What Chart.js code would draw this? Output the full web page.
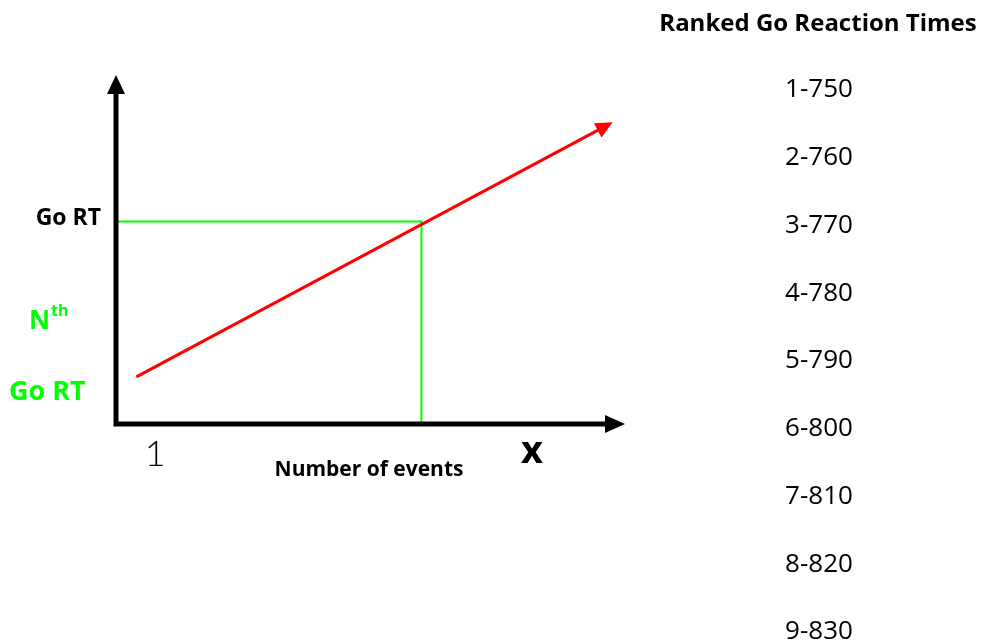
<!DOCTYPE html>
<html>
<head>
<meta charset="utf-8">
<script src="https://cdn.jsdelivr.net/npm/chart.js@4"></script>
<style>
  body { margin: 0; background: #fff; }
  #wrap { width: 986px; height: 644px; position: relative; }
</style>
</head>
<body>
<div id="wrap"><canvas id="RTChart" width="986" height="644"></canvas></div>
<script>
// values
const rankNumbers = [1, 2, 3, 4, 5, 6, 7, 8, 9];
const rankTimes = [750, 760, 770, 780, 790, 800, 810, 820, 830];
const lineX = [0.4, 9.7];
const lineY = [1.35, 8.6];
const goRT = 5.8;      // y level of the Go RT guide
const nthEvent = 6.0;  // x where the guide drops down
const xTickLabels = ['1'];
const xTickValues = [0.77];

document.addEventListener("DOMContentLoaded", function() {
    const font = '"Open Sans", "Noto Sans", sans-serif';

    function arrowHead(ctx, x0, y0, x1, y1, len, half, color) {
        const a = Math.atan2(y1 - y0, x1 - x0);
        ctx.save();
        ctx.fillStyle = color;
        ctx.translate(x1, y1);
        ctx.rotate(a);
        ctx.beginPath();
        ctx.moveTo(0, 0);
        ctx.lineTo(-len, -half);
        ctx.lineTo(-len, half);
        ctx.closePath();
        ctx.fill();
        ctx.restore();
    }

    const diagramPlugin = {
        id: 'diagram',
        afterDatasetsDraw(chart) {
            const ctx = chart.ctx;
            const xs = chart.scales.x, ys = chart.scales.y;
            const ox = xs.getPixelForValue(0), oy = ys.getPixelForValue(0);
            const top = ys.getPixelForValue(10), right = xs.getPixelForValue(10);

            // axes
            ctx.save();
            ctx.strokeStyle = '#000';
            ctx.lineWidth = 5;
            ctx.beginPath();
            ctx.moveTo(ox, top + 16);
            ctx.lineTo(ox, oy);
            ctx.lineTo(right - 18, oy);
            ctx.stroke();
            ctx.restore();
            arrowHead(ctx, ox, oy, ox, top, 19, 9, '#000');
            arrowHead(ctx, ox, oy, right, oy, 20, 9, '#000');

            // red arrow head
            const meta = chart.getDatasetMeta(0).data;
            arrowHead(ctx, meta[0].x, meta[0].y, meta[1].x + 3, meta[1].y - 1.5, 17, 8, '#ff0000');

            ctx.save();
            ctx.textBaseline = 'middle';

            // y labels
            ctx.fillStyle = '#000';
            ctx.textAlign = 'right';
            ctx.font = 'bold 23px ' + font;
            ctx.fillText('Go RT', ox - 15, ys.getPixelForValue(goRT) - 3);

            ctx.fillStyle = '#00ff00';
            ctx.textAlign = 'left';
            ctx.font = 'bold 26px ' + font;
            ctx.fillText('N', 29, 322);
            ctx.font = 'bold 16px ' + font;
            ctx.fillText('th', 51, 311);
            ctx.font = 'bold 27px ' + font;
            ctx.fillText('Go RT', 9, 392);

            // x labels
            ctx.fillStyle = '#000';
            ctx.textAlign = 'center';
            ctx.font = '300 36px Lato, ' + font;
            xTickLabels.forEach(function(t, i) {
                ctx.fillText(t, xs.getPixelForValue(xTickValues[i]), oy + 30);
            });
            ctx.font = 'bold 21px ' + font;
            ctx.fillText('Number of events', 369, 470);
            ctx.font = 'bold 38px ' + font;
            ctx.fillText('x', 532, 452);

            // ranked list
            ctx.font = 'bold 24px ' + font;
            ctx.fillText('Ranked Go Reaction Times', 818, 24);
            ctx.font = '26px ' + font;
            rankNumbers.forEach(function(n, i) {
                ctx.fillText(n + '-' + rankTimes[i], 819, 90 + i * 67.75);
            });
            ctx.restore();
        }
    };

    function createChart(chartId) {
        const ctx = document.getElementById(chartId).getContext('2d');
        new Chart(ctx, {
            type: 'scatter',
            data: {
                datasets: [{
                    data: lineX.map(function(x, i) { return {x: x, y: lineY[i]}; }),
                    showLine: true,
                    borderColor: '#ff0000',
                    borderWidth: 3,
                    pointRadius: 0
                }, {
                    data: [{x: 0, y: goRT}, {x: nthEvent, y: goRT}, {x: nthEvent, y: 0}],
                    showLine: true,
                    borderColor: '#00ff00',
                    borderWidth: 2,
                    pointRadius: 0
                }]
            },
            options: {
                responsive: false,
                animation: false,
                events: [],
                layout: {
                    padding: {left: 116, right: 361, top: 75, bottom: 220}
                },
                plugins: {
                    legend: {display: false},
                    title: {display: false},
                    tooltip: {enabled: false}
                },
                scales: {
                    x: {type: 'linear', min: 0, max: 10, display: false},
                    y: {type: 'linear', min: 0, max: 10, display: false}
                }
            },
            plugins: [diagramPlugin]
        });
    }

    createChart('RTChart');
});
</script>
</body>
</html>
